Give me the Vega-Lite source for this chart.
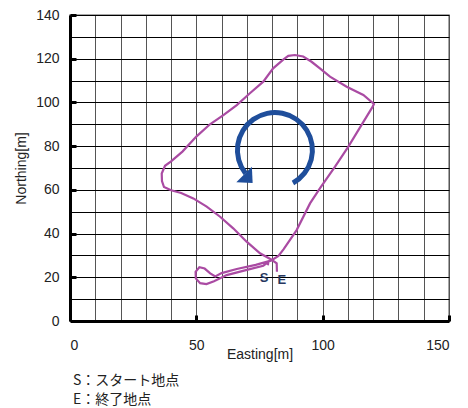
{
  "$schema": "https://vega.github.io/schema/vega-lite/v6.json",
  "width": 379,
  "height": 306,
  "autosize": {"type": "none"},
  "padding": {"left": 70, "top": 15, "right": 19, "bottom": 87},
  "background": "white",
  "config": {
    "view": {"stroke": "#8a8a8a", "strokeWidth": 1.5},
    "font": "Liberation Sans"
  },
  "title": {
    "text": ["S：スタート地点", "E：終了地点"],
    "orient": "bottom",
    "anchor": "start",
    "frame": "group",
    "font": "Noto Sans CJK JP",
    "fontSize": 14,
    "fontWeight": "normal",
    "lineHeight": 19,
    "color": "#222222",
    "offset": 13,
    "dx": 3
  },
  "datasets": {
    "path": [
      {"order": 1, "x": 78.3, "y": 25.5},
      {"order": 2, "x": 78.5, "y": 27.0},
      {"order": 3, "x": 76.5, "y": 25.3},
      {"order": 4, "x": 70.0, "y": 23.4},
      {"order": 5, "x": 62.0, "y": 21.0},
      {"order": 6, "x": 57.0, "y": 18.2},
      {"order": 7, "x": 54.0, "y": 16.9},
      {"order": 8, "x": 51.5, "y": 17.3},
      {"order": 9, "x": 49.8, "y": 19.5},
      {"order": 10, "x": 49.7, "y": 22.5},
      {"order": 11, "x": 51.2, "y": 24.6},
      {"order": 12, "x": 53.3, "y": 24.0},
      {"order": 13, "x": 55.5, "y": 21.8},
      {"order": 14, "x": 57.5, "y": 20.4},
      {"order": 15, "x": 60.0, "y": 21.9},
      {"order": 16, "x": 66.0, "y": 23.8},
      {"order": 17, "x": 73.5, "y": 25.7},
      {"order": 18, "x": 79.5, "y": 27.6},
      {"order": 19, "x": 82.5, "y": 29.8},
      {"order": 20, "x": 84.5, "y": 32.8},
      {"order": 21, "x": 89.7, "y": 41.6},
      {"order": 22, "x": 95.0, "y": 53.8},
      {"order": 23, "x": 98.9, "y": 60.7},
      {"order": 24, "x": 104.9, "y": 70.6},
      {"order": 25, "x": 110.1, "y": 79.7},
      {"order": 26, "x": 115.4, "y": 89.7},
      {"order": 27, "x": 119.5, "y": 97.5},
      {"order": 28, "x": 120.3, "y": 99.3},
      {"order": 29, "x": 116.1, "y": 103.4},
      {"order": 30, "x": 109.5, "y": 107.2},
      {"order": 31, "x": 102.9, "y": 111.8},
      {"order": 32, "x": 98.9, "y": 115.6},
      {"order": 33, "x": 95.6, "y": 118.6},
      {"order": 34, "x": 92.3, "y": 121.0},
      {"order": 35, "x": 89.0, "y": 121.7},
      {"order": 36, "x": 86.4, "y": 121.3},
      {"order": 37, "x": 84.4, "y": 119.6},
      {"order": 38, "x": 80.4, "y": 115.6},
      {"order": 39, "x": 76.5, "y": 109.5},
      {"order": 40, "x": 71.2, "y": 104.2},
      {"order": 41, "x": 66.0, "y": 98.8},
      {"order": 42, "x": 60.7, "y": 94.2},
      {"order": 43, "x": 55.4, "y": 90.0},
      {"order": 44, "x": 50.1, "y": 84.5},
      {"order": 45, "x": 44.5, "y": 77.5},
      {"order": 46, "x": 40.0, "y": 73.0},
      {"order": 47, "x": 37.6, "y": 71.0},
      {"order": 48, "x": 36.3, "y": 67.5},
      {"order": 49, "x": 36.4, "y": 64.0},
      {"order": 50, "x": 37.2, "y": 61.3},
      {"order": 51, "x": 40.0, "y": 59.8},
      {"order": 52, "x": 44.0, "y": 58.6},
      {"order": 53, "x": 48.8, "y": 56.1},
      {"order": 54, "x": 54.1, "y": 52.3},
      {"order": 55, "x": 59.4, "y": 47.7},
      {"order": 56, "x": 64.6, "y": 42.4},
      {"order": 57, "x": 69.9, "y": 36.3},
      {"order": 58, "x": 75.2, "y": 31.0},
      {"order": 59, "x": 79.8, "y": 28.0},
      {"order": 60, "x": 81.8, "y": 26.4},
      {"order": 61, "x": 81.9, "y": 22.5}
    ],
    "arrow": [
      {"cx": 81.1, "cy": 78.2, "t0": -2.24, "t1": 2.64}
    ],
    "head": [
      {"hx": 68.9, "hy": 67.0}
    ],
    "labels": [
      {"label": "S", "lx": 76.8, "ly": 19.5},
      {"label": "E", "lx": 83.8, "ly": 18.8}
    ]
  },
  "encoding": {
    "x": {
      "type": "quantitative",
      "scale": {"domain": [0, 150], "nice": false, "zero": false},
      "axis": {
        "title": "Easting[m]",
        "values": [0, 10, 20, 30, 40, 50, 60, 70, 80, 90, 100, 110, 120, 130, 140, 150],
        "labelExpr": "datum.value % 50 === 0 ? datum.label : ''",
        "grid": true,
        "gridColor": "#555555",
        "gridWidth": 1,
        "gridOpacity": 1,
        "domainColor": "#000000",
        "domainWidth": 3,
        "tickSize": -6,
        "tickWidth": 3,
        "tickColor": "#000000",
        "tickOpacity": {"condition": {"test": "datum.value % 50 === 0 && datum.value > 0", "value": 1}, "value": 0},
        "labelPadding": 23,
        "labelFontSize": 14,
        "labelColor": "#222222",
        "labelFont": "Liberation Sans",
        "titleFont": "Liberation Sans",
        "titleFontSize": 14,
        "titleFontWeight": "normal",
        "titleColor": "#222222",
        "titleBaseline": "alphabetic",
        "titleY": 37
      }
    },
    "y": {
      "type": "quantitative",
      "scale": {"domain": [0, 140], "nice": false, "zero": false},
      "axis": {
        "title": "Northing[m]",
        "values": [0, 10, 20, 30, 40, 50, 60, 70, 80, 90, 100, 110, 120, 130, 140],
        "labelExpr": "datum.value % 20 === 0 ? datum.label : ''",
        "grid": true,
        "gridColor": "#000000",
        "gridWidth": 1,
        "gridOpacity": 1,
        "domainColor": "#000000",
        "domainWidth": 3,
        "tickSize": -6,
        "tickWidth": 3,
        "tickColor": "#000000",
        "tickOpacity": {"condition": {"test": "datum.value % 20 === 0 && datum.value > 0", "value": 1}, "value": 0},
        "labelPadding": 17,
        "labelFontSize": 14,
        "labelColor": "#222222",
        "labelFont": "Liberation Sans",
        "titleFont": "Liberation Sans",
        "titleFontSize": 14,
        "titleFontWeight": "normal",
        "titleColor": "#222222",
        "titleX": -42
      }
    }
  },
  "layer": [
    {
      "data": {"name": "path"},
      "mark": {"type": "line", "color": "#AA4BA3", "strokeWidth": 2.2, "clip": false},
      "encoding": {
        "x": {"field": "x", "type": "quantitative"},
        "y": {"field": "y", "type": "quantitative"},
        "order": {"field": "order", "type": "quantitative"}
      }
    },
    {
      "data": {"name": "arrow"},
      "mark": {"type": "arc", "innerRadius": 35, "outerRadius": 40, "color": "#1F4E9B"},
      "encoding": {
        "x": {"field": "cx", "type": "quantitative"},
        "y": {"field": "cy", "type": "quantitative"},
        "theta": {"field": "t0", "type": "quantitative", "scale": null},
        "theta2": {"field": "t1"}
      }
    },
    {
      "data": {"name": "head"},
      "mark": {"type": "point", "shape": "M -1 0 L 1 0 L 0 1.1 Z", "filled": true, "color": "#1F4E9B", "size": 484, "angle": -45, "opacity": 1, "strokeWidth": 0},
      "encoding": {
        "x": {"field": "hx", "type": "quantitative"},
        "y": {"field": "hy", "type": "quantitative"}
      }
    },
    {
      "data": {"name": "labels"},
      "mark": {"type": "text", "font": "Liberation Sans", "fontSize": 13, "fontWeight": "bold", "color": "#27375F", "baseline": "middle", "align": "center"},
      "encoding": {
        "x": {"field": "lx", "type": "quantitative"},
        "y": {"field": "ly", "type": "quantitative"},
        "text": {"field": "label"}
      }
    }
  ]
}
